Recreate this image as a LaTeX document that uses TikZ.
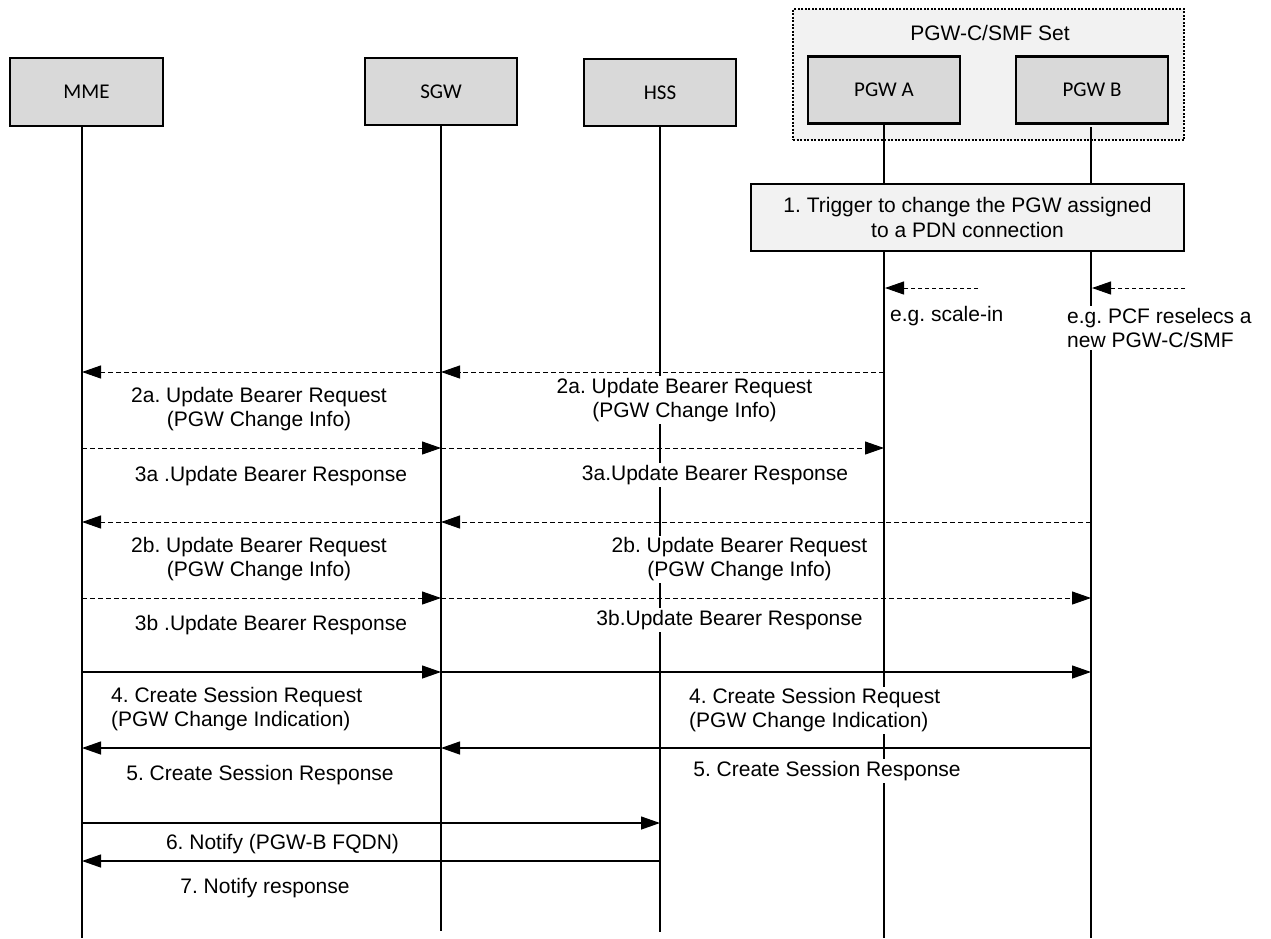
\documentclass[tikz,border=0pt]{standalone}
\usepackage{fontspec}
\setmainfont{Liberation Sans}
\newfontfamily\hdrfont{Carlito}
\usetikzlibrary{arrows.meta}
\definecolor{hdrgray}{HTML}{D9D9D9}
\definecolor{setgray}{HTML}{F2F2F2}
\frenchspacing
\begin{document}
\begin{tikzpicture}[x=1pt,y=-1pt,
  hdr/.style={draw, line width=2.8pt, fill=hdrgray, minimum width=152pt, minimum height=67pt, inner sep=0pt, font=\hdrfont\fontsize{21}{24}\selectfont},
  life/.style={line width=2.3pt},
  lbl/.style={fill=white, inner sep=2pt, align=center, font=\fontsize{21}{24}\selectfont},
  msgd/.style={dash pattern=on 5pt off 3pt, line width=1pt, -{Triangle[length=19pt,width=13pt]}},
  msgs/.style={line width=1.2pt, -{Triangle[length=19pt,width=13pt]}}]
\useasboundingbox (0,0) rectangle (1271,938);
% PGW set box
\node[draw, fill=setgray, line width=1.5pt, dash pattern=on 2pt off 1.5pt, minimum width=391pt, minimum height=131pt, inner sep=0pt] (set) at (988.5,74.5) {};
\node[font=\fontsize{21}{24}\selectfont, inner sep=0pt] (settitle) at (990,33) {PGW-C/SMF Set};
% lifeline coordinates
\coordinate (mmeT) at (82,126);   \coordinate (mmeB) at (82,938);
\coordinate (sgwT) at (441,125);  \coordinate (sgwB) at (441,931);
\coordinate (hssT) at (660,126);  \coordinate (hssB) at (660,932);
\coordinate (pgaT) at (884,123);  \coordinate (pgaB) at (884,938);
\coordinate (pgbT) at (1091,127); \coordinate (pgbB) at (1091,938);
\draw[life] (mmeT) -- (mmeB);
\draw[life] (sgwT) -- (sgwB);
\draw[life] (hssT) -- (hssB);
\draw[life] (pgaT) -- (pgaB);
\draw[life] (pgbT) -- (pgbB);
% headers
\node[hdr, minimum width=153pt, minimum height=68pt] (mme) at (86.5,92) {MME};
\node[hdr] (sgw) at (441,91.5) {SGW};
\node[hdr] (hss) at (660,92.5) {HSS};
\node[hdr] (pga) at (884,90) {PGW A};
\node[hdr] (pgb) at (1092,90) {PGW B};
% trigger box
\node[draw, fill=setgray, line width=2pt, minimum width=433pt, minimum height=67pt, align=center, inner sep=0pt, font=\fontsize{21}{25}\selectfont] (trig) at (967.5,217.5) {1. Trigger to change the PGW assigned\\to a PDN connection};
% triggers
\coordinate (trA) at (978,288);
\coordinate (trB) at (1185,288);
\draw[msgd, dash pattern=on 4pt off 3pt] (trA) -- ([xshift=1pt]pgaT |- trA);
\draw[msgd, dash pattern=on 4pt off 3pt] (trB) -- ([xshift=1pt]pgbT |- trB);
\node[lbl, anchor=west] (scalein) at (888,316) {e.g. scale-in};
\node[lbl, anchor=west, align=left] (pcf) at (1065,328) {e.g. PCF reselecs a\\new PGW-C/SMF};
% labels
\node[lbl] (l2a) at (259,409) {2a. Update Bearer Request\\(PGW Change Info)};
\node[lbl] (r2a) at (684.5,400) {2a. Update Bearer Request\\(PGW Change Info)};
\node[lbl] (l3a) at (271,476) {3a .Update Bearer Response};
\node[lbl] (r3a) at (715,475) {3a.Update Bearer Response};
\node[lbl] (l2b) at (259,559.5) {2b. Update Bearer Request\\(PGW Change Info)};
\node[lbl] (r2b) at (739.5,559.5) {2b. Update Bearer Request\\(PGW Change Info)};
\node[lbl] (l3b) at (271,625) {3b .Update Bearer Response};
\node[lbl] (r3b) at (729.5,620) {3b.Update Bearer Response};
\node[lbl, anchor=west, align=left] (l4) at (109,709.5) {4. Create Session Request\\(PGW Change Indication)};
\node[lbl, anchor=west, align=left] (r4) at (687,710.5) {4. Create Session Request\\(PGW Change Indication)};
\node[lbl] (l5) at (260,775) {5. Create Session Response};
\node[lbl] (r5) at (827,771) {5. Create Session Response};
\node[lbl] (l6) at (282.5,844) {6. Notify (PGW-B FQDN)};
\node[lbl] (l7) at (265,888) {7. Notify response};
% message rows
\coordinate (y2a) at (0,372);
\coordinate (y3a) at (0,448);
\coordinate (y2b) at (0,522);
\coordinate (y3b) at (0,598);
\coordinate (y4) at (0,672);
\coordinate (y5) at (0,748);
\coordinate (y6) at (0,823);
\coordinate (y7) at (0,861);
% messages
\draw[msgd] (pgaT |- y2a) -- (sgwT |- y2a);
\draw[msgd] (sgwT |- y2a) -- (mmeT |- y2a);
\draw[msgd] (mmeT |- y3a) -- (sgwT |- y3a);
\draw[msgd] (sgwT |- y3a) -- (pgaT |- y3a);
\draw[msgd] (pgbT |- y2b) -- (sgwT |- y2b);
\draw[msgd] (sgwT |- y2b) -- (mmeT |- y2b);
\draw[msgd] (mmeT |- y3b) -- (sgwT |- y3b);
\draw[msgd] (sgwT |- y3b) -- (pgbT |- y3b);
\draw[msgs] (mmeT |- y4) -- (sgwT |- y4);
\draw[msgs] (sgwT |- y4) -- (pgbT |- y4);
\draw[msgs] (pgbT |- y5) -- (sgwT |- y5);
\draw[msgs] (sgwT |- y5) -- (mmeT |- y5);
\draw[msgs] (mmeT |- y6) -- (hssT |- y6);
\draw[msgs] (hssT |- y7) -- (mmeT |- y7);
\end{tikzpicture}
\end{document}
